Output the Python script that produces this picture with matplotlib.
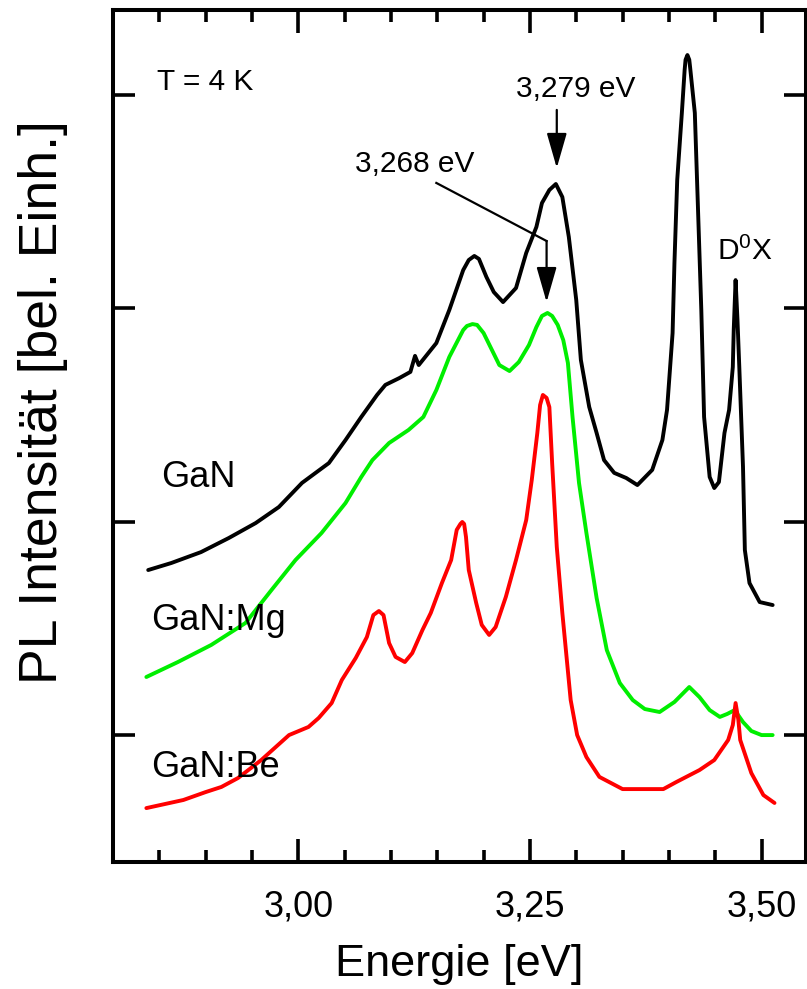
import matplotlib
matplotlib.use("Agg")
import matplotlib.pyplot as plt
from matplotlib.ticker import MultipleLocator, FuncFormatter

plt.rcParams['font.family'] = ['Liberation Sans', 'DejaVu Sans']
plt.rcParams['mathtext.fontset'] = 'custom'
plt.rcParams['mathtext.rm'] = 'Liberation Sans'
plt.rcParams['mathtext.it'] = 'Liberation Sans'

# ---- data (energy in eV, PL intensity in arbitrary units, curves offset) ----
gan_x = [2.838, 2.863, 2.895, 2.925, 2.954, 2.979, 3.004, 3.033, 3.051, 3.068,
         3.085, 3.094, 3.109, 3.121, 3.126, 3.130, 3.149, 3.163, 3.178, 3.184,
         3.190, 3.195, 3.203, 3.211, 3.221, 3.235, 3.246, 3.257, 3.263, 3.271,
         3.278, 3.285, 3.292, 3.300, 3.305, 3.314, 3.322, 3.330, 3.341, 3.354,
         3.366, 3.382, 3.393, 3.398, 3.404, 3.406, 3.409, 3.414, 3.417, 3.418,
         3.420, 3.422, 3.423, 3.428, 3.431, 3.435, 3.438, 3.444, 3.449, 3.454,
         3.460, 3.465, 3.469, 3.470, 3.472, 3.474, 3.476, 3.480, 3.482, 3.487,
         3.498, 3.512]
gan_y = [0.775, 0.808, 0.859, 0.925, 0.995, 1.070, 1.183, 1.276, 1.384, 1.492,
         1.595, 1.642, 1.674, 1.703, 1.778, 1.735, 1.838, 1.993, 2.180, 2.227,
         2.246, 2.232, 2.148, 2.077, 2.030, 2.096, 2.260, 2.382, 2.494, 2.555,
         2.583, 2.522, 2.335, 2.040, 1.759, 1.539, 1.417, 1.290, 1.230, 1.206,
         1.173, 1.244, 1.384, 1.525, 1.885, 2.213, 2.602, 2.916, 3.117, 3.165,
         3.187, 3.165, 3.126, 2.916, 2.522, 1.993, 1.492, 1.211, 1.159, 1.187,
         1.417, 1.525, 1.726, 1.900, 2.133, 1.950, 1.726, 1.258, 0.869, 0.714,
         0.625, 0.611]

mg_x = [2.836, 2.870, 2.906, 2.943, 2.971, 2.997, 3.025, 3.051, 3.068, 3.080,
        3.098, 3.119, 3.135, 3.149, 3.163, 3.178, 3.182, 3.188, 3.193, 3.200,
        3.217, 3.228, 3.238, 3.249, 3.257, 3.263, 3.269, 3.274, 3.280, 3.286,
        3.291, 3.296, 3.303, 3.311, 3.322, 3.333, 3.347, 3.361, 3.374, 3.390,
        3.406, 3.422, 3.433, 3.444, 3.455, 3.463, 3.471, 3.480, 3.489, 3.500,
        3.512]
mg_y = [0.274, 0.344, 0.424, 0.527, 0.681, 0.822, 0.948, 1.089, 1.211, 1.290,
        1.370, 1.431, 1.492, 1.618, 1.773, 1.899, 1.918, 1.927, 1.923, 1.885,
        1.735, 1.707, 1.749, 1.829, 1.913, 1.965, 1.979, 1.965, 1.923, 1.852,
        1.745, 1.492, 1.183, 0.948, 0.644, 0.400, 0.246, 0.166, 0.124, 0.110,
        0.157, 0.227, 0.180, 0.119, 0.087, 0.101, 0.119, 0.063, 0.021, 0.002,
        0.002]

be_x = [2.836, 2.876, 2.900, 2.917, 2.935, 2.960, 2.990, 3.011, 3.022, 3.036,
        3.047, 3.062, 3.074, 3.081, 3.087, 3.092, 3.098, 3.105, 3.115, 3.123,
        3.134, 3.143, 3.155, 3.165, 3.171, 3.175, 3.177, 3.179, 3.181, 3.184,
        3.192, 3.198, 3.206, 3.213, 3.224, 3.235, 3.246, 3.252, 3.258, 3.261,
        3.264, 3.268, 3.271, 3.274, 3.279, 3.285, 3.294, 3.301, 3.311, 3.325,
        3.350, 3.394, 3.408, 3.433, 3.449, 3.464, 3.469, 3.472, 3.475, 3.477,
        3.489, 3.502, 3.514]
be_y = [-0.340, -0.302, -0.265, -0.241, -0.199, -0.115, 0.002, 0.040, 0.082, 0.152,
        0.260, 0.363, 0.461, 0.564, 0.583, 0.564, 0.433, 0.368, 0.344, 0.386,
        0.494, 0.574, 0.714, 0.822, 0.963, 0.991, 1.000, 0.991, 0.930, 0.775,
        0.621, 0.518, 0.471, 0.508, 0.649, 0.822, 1.009, 1.197, 1.417, 1.548,
        1.595, 1.581, 1.538, 1.276, 0.883, 0.574, 0.166, 0.002, -0.101, -0.194,
        -0.251, -0.251, -0.218, -0.162, -0.115, -0.021, 0.049, 0.152, 0.073, -0.021,
        -0.176, -0.279, -0.316]

sample_labels = ["GaN", "GaN:Mg", "GaN:Be"]
line_colors = ["black", "#00ee00", "#ff0000"]
peak_a = 3.279
peak_b = 3.268
x_ticks = [3.00, 3.25, 3.50]

# ---- figure ----
fig = plt.figure(figsize=(8.07, 9.89), dpi=100)
ax = fig.add_axes([113/807, 127/989, (806-113)/807, (862-10)/989])

for xs, ys, c in zip([gan_x, mg_x, be_x], [gan_y, mg_y, be_y], line_colors):
    ax.plot(xs, ys, color=c, lw=2.8, solid_joinstyle='round', solid_capstyle='round')

ax.set_xlim(2.80, 3.548)
ax.set_ylim(-0.5925, 3.398)

ax.set_xticks(x_ticks)
ax.xaxis.set_minor_locator(MultipleLocator(0.05))
ax.xaxis.set_major_formatter(FuncFormatter(lambda v, p: f"{v:.2f}".replace('.', ',')))
ax.set_yticks([0, 1, 2, 3])
ax.set_yticklabels([])

ax.tick_params(axis='both', which='both', direction='in', top=True, right=True, width=2.6)
ax.tick_params(axis='x', which='major', length=16.5, labelsize=26, pad=20)
ax.tick_params(axis='x', which='minor', length=8.5)
ax.tick_params(axis='y', which='major', length=16)
for s in ax.spines.values():
    s.set_linewidth(2.9)

ax.set_xlabel("Energie [eV]", fontsize=32.5, labelpad=14)
ax.set_ylabel("PL Intensität [bel. Einh.]", fontsize=38.5, labelpad=29)
ax.yaxis.label.set_y(0.54)

# labels
ax.text(2.852, 1.164, sample_labels[0], fontsize=26, ha='left', va='baseline')
ax.text(2.841, 0.494, sample_labels[1], fontsize=26, ha='left', va='baseline')
ax.text(2.841, -0.194, sample_labels[2], fontsize=26, ha='left', va='baseline')

ax.text(2.847, 3.023, "T = 4 K", fontsize=21.5, ha='left', va='baseline')
ax.text(3.2995, 2.991, "3,279 eV", fontsize=21.5, ha='center', va='baseline')
ax.text(3.1258, 2.639, "3,268 eV", fontsize=21.5, ha='center', va='baseline')
ax.text(3.4818, 2.227, "D$^{0}$X", fontsize=21.5, ha='center', va='baseline')

arrow_style = "-|>,head_length=1.08,head_width=0.31"
ax.annotate("", xy=(peak_a, 2.658), xytext=(peak_a, 2.930),
            arrowprops=dict(arrowstyle=arrow_style, mutation_scale=20,
                            color='black', lw=1.6, shrinkA=0, shrinkB=0))
ax.plot([3.149, peak_b], [2.588, 2.316], color='black', lw=1.6)
ax.annotate("", xy=(peak_b, 2.030), xytext=(peak_b, 2.316),
            arrowprops=dict(arrowstyle=arrow_style, mutation_scale=20,
                            color='black', lw=1.6, shrinkA=0, shrinkB=0))

fig.savefig("out.png", dpi=100)
